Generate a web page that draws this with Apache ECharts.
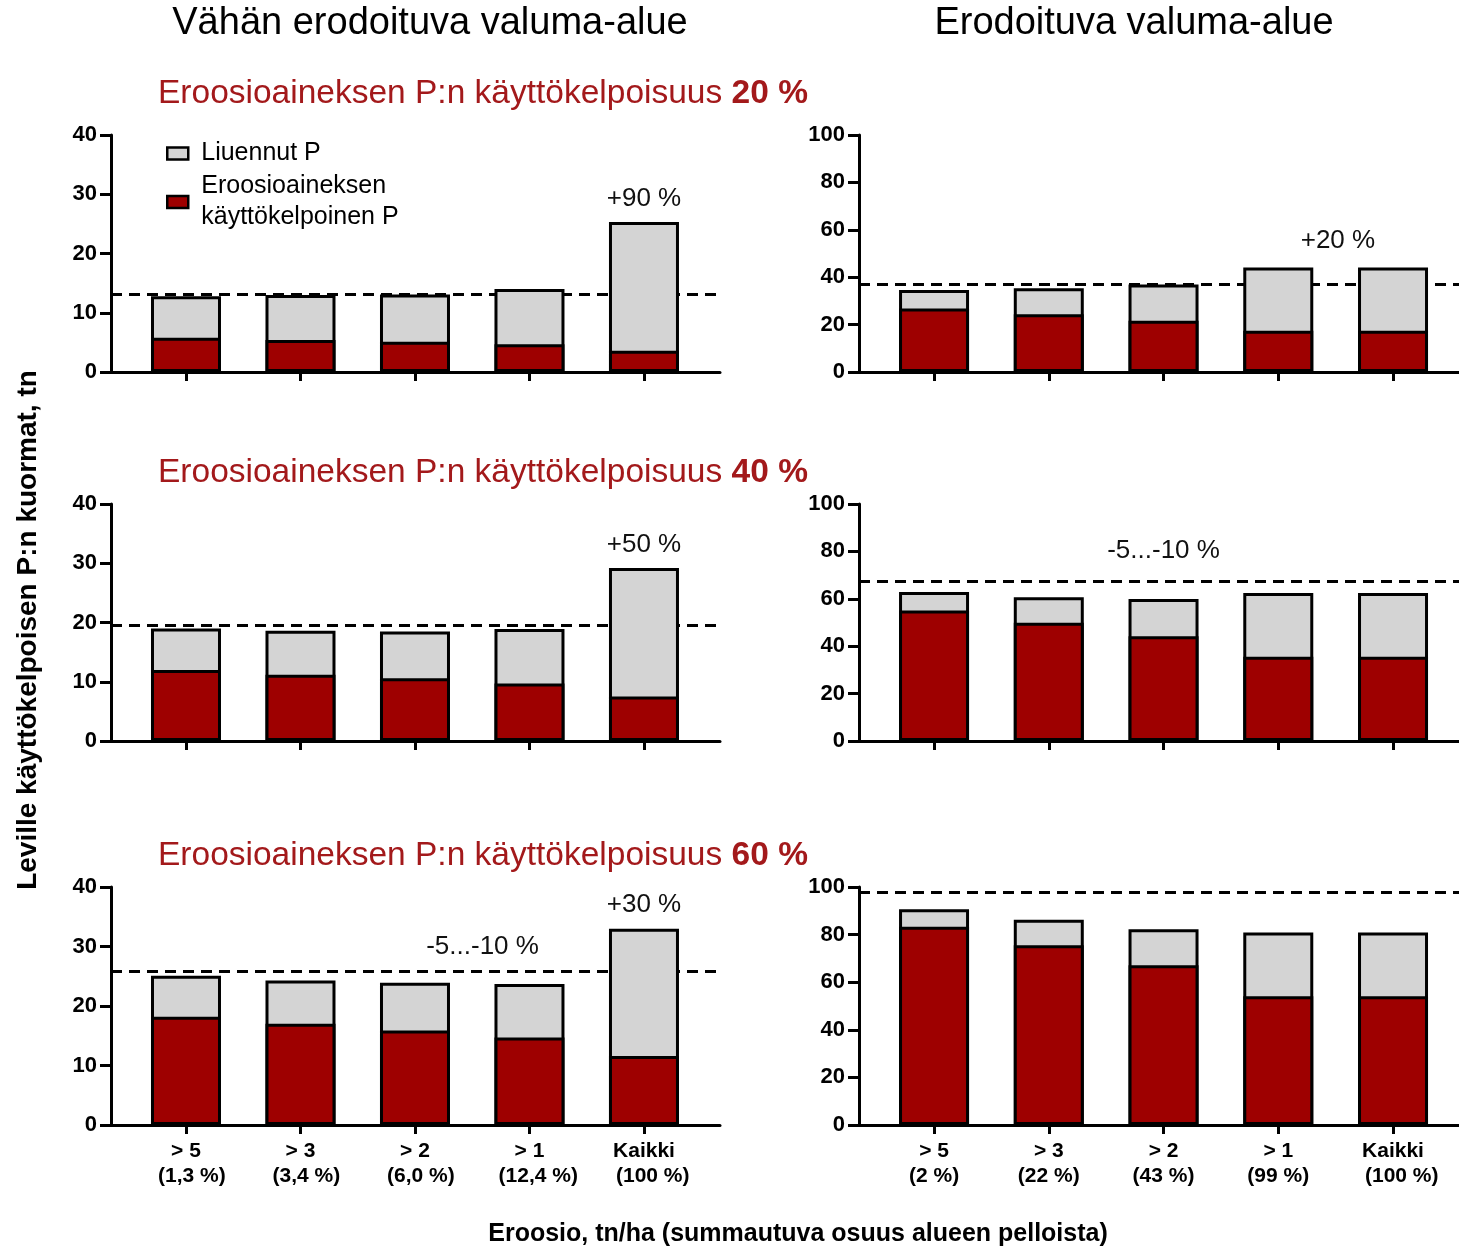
<!DOCTYPE html>
<html>
<head>
<meta charset="utf-8">
<script src="https://cdn.jsdelivr.net/npm/echarts@6/dist/echarts.min.js"></script>
<style>
  html, body { margin: 0; padding: 0; background: #fff; }
  #chart { width: 1459px; height: 1247px; }
</style>
</head>
<body>
<div id="chart"></div>
<script>
// Erosion classes (t/ha) and cumulative share of fields in each catchment
const erosionClasses = ['> 5', '> 3', '> 2', '> 1', 'Kaikki'];
const sharesLow = ['  (1,3 %)', '  (3,4 %)', '  (6,0 %)', '   (12,4 %)', '   (100 %)'];
const sharesHigh = ['(2 %)', '(22 %)', '(43 %)', '(99 %)', '   (100 %)'];

// Loads, t — low-erosion catchment (left column)
const lowRed20 = [5.8, 5.4, 5.1, 4.7, 3.6];
const lowGray20 = [7.0, 7.6, 8.0, 9.3, 21.7];
const lowRed40 = [12.0, 11.2, 10.6, 9.7, 7.5];
const lowGray40 = [7.0, 7.4, 7.9, 9.2, 21.7];
const lowRed60 = [18.2, 17.0, 15.9, 14.7, 11.6];
const lowGray60 = [6.9, 7.3, 8.0, 9.0, 21.4];

// Loads, t — eroding catchment (right column)
const highRed20 = [26.8, 24.4, 21.6, 17.4, 17.4];
const highGray20 = [7.8, 10.9, 15.3, 26.7, 26.7];
const highRed40 = [55.1, 49.9, 44.2, 35.6, 35.6];
const highGray40 = [7.8, 10.8, 15.7, 26.8, 26.8];
const highRed60 = [83.3, 75.5, 67.1, 54.1, 54.1];
const highGray60 = [7.4, 10.7, 15.2, 26.8, 26.8];

// Reference (dashed) load levels
const baseLow = [13.2, 19.5, 25.9];
const baseHigh = [36.9, 67.5, 98.0];

// Change labels: [x position in class units, y value, text]
const notesLow20 = [[4, 29.2, '+90 %']];
const notesHigh20 = [[3.52, 55.3, '+20 %']];
const notesLow40 = [[4, 33.1, '+50 %']];
const notesHigh40 = [[2, 80.2, '-5...-10 %']];
const notesLow60 = [[4, 37.0, '+30 %'], [2.59, 29.9, '-5...-10 %']];
const notesHigh60 = [[0.51, 107, '-5...-10 %'], [2.93, 107, '-15...-20 %']];

const availability = ['20 %', '40 %', '60 %'];

const NAME_GRAY = 'Liuennut P';
const NAME_RED = 'Eroosioaineksen\nkäyttökelpoinen P';
const FONT = '"Liberation Sans", Arial, Helvetica, sans-serif';
const RED = '#9e0000';
const GRAY = '#d4d4d4';
const TEXT_RED = '#a3191b';

const panels = [
  { red: lowRed20, gray: lowGray20, base: baseLow[0], notes: notesLow20, col: 0, row: 0 },
  { red: highRed20, gray: highGray20, base: baseHigh[0], notes: notesHigh20, col: 1, row: 0 },
  { red: lowRed40, gray: lowGray40, base: baseLow[1], notes: notesLow40, col: 0, row: 1 },
  { red: highRed40, gray: highGray40, base: baseHigh[1], notes: notesHigh40, col: 1, row: 1 },
  { red: lowRed60, gray: lowGray60, base: baseLow[2], notes: notesLow60, col: 0, row: 2 },
  { red: highRed60, gray: highGray60, base: baseHigh[2], notes: notesHigh60, col: 1, row: 2 }
];

const rowTops = [135, 504, 887];
const rowHeights = [237, 237, 238];
const colLeft = [111, 859];
const colWidth = [609, 600];
const colMin = [-0.655, -0.654];
const colMax = [4.664, 4.575];

const grids = [], xAxes = [], yAxes = [], series = [];

panels.forEach((p, i) => {
  const isBottom = p.row === 2;
  const shares = p.col === 0 ? sharesLow : sharesHigh;
  grids.push({ left: colLeft[p.col], top: rowTops[p.row], width: colWidth[p.col], height: rowHeights[p.row] });
  xAxes.push({
    type: 'value', gridIndex: i, min: colMin[p.col], max: colMax[p.col],
    splitLine: { show: false },
    axisLine: { show: true, onZero: false, lineStyle: { color: '#000', width: 3 } },
    axisTick: { show: true, length: 9, customValues: [0, 1, 2, 3, 4], lineStyle: { color: '#000', width: 3 } },
    axisLabel: {
      show: isBottom, customValues: [0, 1, 2, 3, 4], margin: 14,
      fontFamily: FONT, fontWeight: 'bold', fontSize: 21, color: '#000', lineHeight: 25,
      formatter: v => erosionClasses[Math.round(v)] + '\n' + shares[Math.round(v)]
    }
  });
  yAxes.push({
    type: 'value', gridIndex: i, min: 0, max: p.col === 0 ? 40 : 100, interval: p.col === 0 ? 10 : 20,
    splitLine: { show: false },
    axisLine: { show: true, onZero: false, lineStyle: { color: '#000', width: 3 } },
    axisTick: { show: true, length: 11, lineStyle: { color: '#000', width: 3 } },
    axisLabel: { fontFamily: FONT, fontWeight: 'bold', fontSize: 22, color: '#000', margin: 14 }
  });
  // Dissolved P sits on top of the erosion-derived part: the gray bar spans
  // from zero to the bar total, and the red part is drawn over its lower end.
  series.push({
    type: 'bar', name: NAME_GRAY, xAxisIndex: i, yAxisIndex: i, barWidth: 70, barGap: '-100%', z: 3,
    itemStyle: { color: GRAY, borderColor: '#000', borderWidth: 3 },
    data: p.gray.map((v, k) => [k, p.red[k] + v]),
    markLine: {
      silent: true, symbol: 'none', z: 1, animation: false,
      label: { show: false },
      lineStyle: { color: '#000', width: 3, type: [11, 7] },
      data: [{ yAxis: p.base }]
    },
    markPoint: {
      silent: true, symbol: 'rect', symbolSize: 1, animation: false,
      itemStyle: { color: 'rgba(0,0,0,0)' },
      label: { show: true, position: 'inside', fontFamily: FONT, fontSize: 26, color: '#111', formatter: '{b}' },
      data: p.notes.map(n => ({ name: n[2], coord: [n[0], n[1]] }))
    }
  });
  series.push({
    type: 'bar', name: NAME_RED, xAxisIndex: i, yAxisIndex: i, barWidth: 70, barGap: '-100%', z: 4,
    itemStyle: { color: RED, borderColor: '#000', borderWidth: 3 },
    data: p.red.map((v, k) => [k, v])
  });
});

const subtitleY = [94, 473, 856];
const graphics = [
  { type: 'text', x: 430, y: 24, style: { text: 'Vähän erodoituva valuma-alue', font: '38px ' + FONT, fill: '#000', align: 'center', verticalAlign: 'middle' } },
  { type: 'text', x: 1134, y: 24, style: { text: 'Erodoituva valuma-alue', font: '38px ' + FONT, fill: '#000', align: 'center', verticalAlign: 'middle' } },
  { type: 'text', x: 28, y: 630, rotation: Math.PI / 2,
    style: { text: 'Leville käyttökelpoisen P:n kuormat, tn', font: 'bold 28px ' + FONT, fill: '#000', align: 'center', verticalAlign: 'middle' } },
  { type: 'text', x: 798, y: 1234,
    style: { text: 'Eroosio, tn/ha (summautuva osuus alueen pelloista)', font: 'bold 25px ' + FONT, fill: '#000', align: 'center', verticalAlign: 'middle' } }
];
availability.forEach((a, r) => {
  graphics.push({
    type: 'text', x: 158, y: subtitleY[r],
    style: {
      text: '{n|Eroosioaineksen P:n käyttökelpoisuus }{b|' + a + '}',
      verticalAlign: 'middle', align: 'left',
      rich: {
        n: { fontSize: 33.5, fontFamily: FONT, fill: TEXT_RED },
        b: { fontSize: 33.5, fontFamily: FONT, fontWeight: 'bold', fill: TEXT_RED }
      }
    }
  });
});

const chart = echarts.init(document.getElementById('chart'), null, { renderer: 'canvas' });
chart.setOption({
  animation: false,
  backgroundColor: '#fff',
  grid: grids,
  xAxis: xAxes,
  yAxis: yAxes,
  legend: {
    data: [NAME_GRAY, NAME_RED], orient: 'vertical', left: 161, top: 133,
    selectedMode: false, icon: 'rect', itemWidth: 21, itemHeight: 12, itemGap: 2,
    itemStyle: { borderColor: '#000', borderWidth: 2.5 },
    textStyle: { fontFamily: FONT, fontSize: 25, color: '#000', lineHeight: 31, padding: [0, 0, 0, 8] }
  },
  graphic: graphics,
  series
});
</script>
</body>
</html>
